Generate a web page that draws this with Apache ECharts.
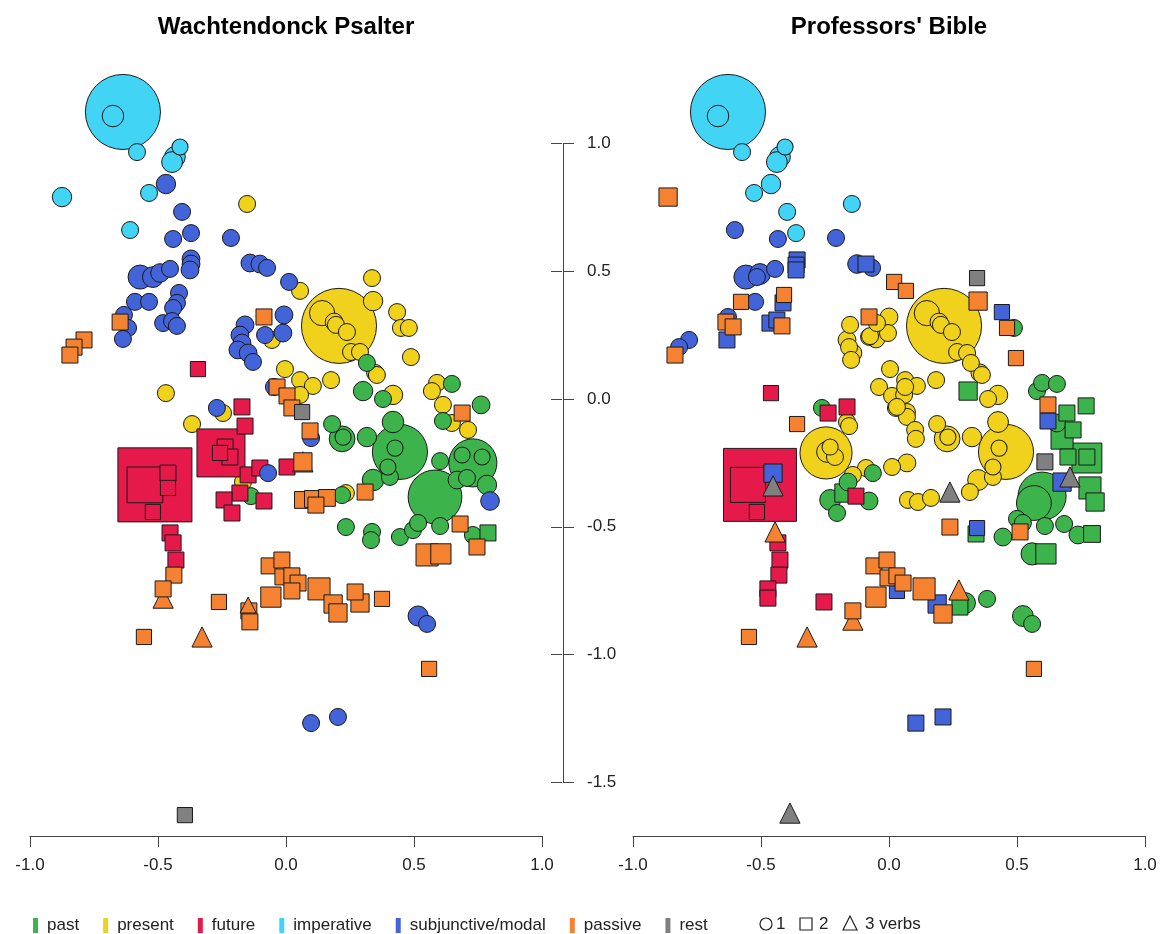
<!DOCTYPE html>
<html>
<head>
<meta charset="utf-8">
<title>Wachtendonck Psalter / Professors' Bible</title>
<script src="https://cdn.jsdelivr.net/npm/echarts@6/dist/echarts.min.js"></script>
<style>
  html, body { margin: 0; padding: 0; background: #fff; }
  #chart { width: 1161px; height: 934px; }
</style>
</head>
<body>
<div id="chart"></div>
<script>
// each point: [x, y, frequency weight, number of verbs (1 circle, 2 square, 3 triangle)]
var categories = ['past', 'present', 'future', 'imperative', 'subjunctive/modal', 'passive', 'rest'];
var colors = ['#3cb44b', '#f0d21c', '#e6194b', '#42d4f4', '#4363d8', '#f58231', '#808080'];
var drawOrder = ['present', 'past', 'imperative', 'future', 'subjunctive/modal', 'passive', 'rest'];
var panelTitles = ['Wachtendonck Psalter', "Professors' Bible"];

// ---- Wachtendonck Psalter ----
var psalterPast = [
    [0.316, 0.141, 1, 1], [0.301, 0.031, 1.3, 1], [0.379, 0.000, 1, 1], [0.648, 0.059, 1, 1],
    [0.762, -0.023, 1.1, 1], [0.613, -0.086, 1, 1], [0.180, -0.098, 1, 1], [0.219, -0.156, 2.3, 1],
    [0.223, -0.149, 0.9, 1], [0.316, -0.149, 1.3, 1], [0.418, -0.090, 1.6, 1], [0.445, -0.207, 10.5, 1],
    [0.426, -0.192, 0.9, 1], [0.398, -0.266, 0.9, 1], [0.406, -0.305, 1, 1], [0.340, -0.317, 1.6, 1],
    [0.602, -0.243, 1, 1], [0.730, -0.250, 8, 1], [0.688, -0.219, 0.9, 1], [0.766, -0.227, 0.9, 1],
    [0.668, -0.317, 1.1, 1], [0.707, -0.309, 1, 1], [0.785, -0.336, 1.3, 1], [0.582, -0.383, 10, 1],
    [0.730, -0.532, 1, 1], [0.234, -0.501, 1, 1], [0.336, -0.520, 1, 1], [0.332, -0.552, 1, 1],
    [0.445, -0.540, 1, 1], [0.496, -0.513, 1, 1], [0.516, -0.485, 1, 1], [0.602, -0.497, 1, 1],
    [0.219, -0.376, 1, 1], [-0.137, -0.380, 1, 1], [0.789, -0.524, 1, 2]
];
var psalterPresent = [
    [-0.152, 0.763, 1, 1], [0.336, 0.473, 1, 1], [0.340, 0.383, 1.3, 1], [0.055, 0.423, 1, 1],
    [0.207, 0.286, 19.5, 1], [0.141, 0.336, 2.2, 1], [0.188, 0.301, 1.1, 1], [0.195, 0.290, 1, 1],
    [0.238, 0.262, 1, 1], [0.254, 0.184, 1, 1], [0.289, 0.184, 1, 1], [0.348, 0.102, 1, 1],
    [0.355, 0.094, 1, 1], [0.434, 0.340, 1, 1], [0.449, 0.278, 1, 1], [0.480, 0.278, 1, 1],
    [0.488, 0.164, 1, 1], [-0.004, 0.117, 1, 1], [0.055, 0.074, 1, 1], [0.105, 0.051, 1, 1],
    [0.176, 0.074, 1, 1], [0.055, 0.016, 1, 1], [0.418, 0.016, 1.3, 1], [0.590, 0.063, 1, 1],
    [0.570, 0.031, 1, 1], [0.613, -0.023, 1, 1], [0.648, -0.094, 1, 1], [0.711, -0.121, 1, 1],
    [0.234, -0.368, 1, 1], [-0.055, 0.231, 1, 1], [-0.469, 0.023, 1, 1], [-0.246, -0.055, 1, 1],
    [-0.367, -0.098, 1, 1], [-0.168, -0.325, 1, 1]
];
var psalterFuture = [
    [-0.512, -0.336, 21.4, 2], [-0.551, -0.336, 5, 2], [-0.461, -0.290, 1, 2], [-0.461, -0.348, 0.9, 2],
    [-0.520, -0.442, 0.9, 2], [-0.254, -0.211, 9, 2], [-0.238, -0.188, 1, 2], [-0.219, -0.227, 1, 2],
    [-0.258, -0.211, 0.9, 2], [-0.344, 0.117, 0.9, 2], [-0.172, -0.031, 1, 2], [-0.160, -0.106, 1, 2],
    [-0.148, -0.297, 1, 2], [-0.102, -0.270, 1, 2], [0.004, -0.266, 1, 2], [-0.180, -0.368, 1, 2],
    [-0.242, -0.395, 1, 2], [-0.086, -0.399, 1, 2], [-0.211, -0.446, 1, 2], [-0.453, -0.524, 1, 2],
    [-0.441, -0.563, 1, 2], [-0.430, -0.630, 1, 2]
];
var psalterImperative = [
    [-0.637, 1.123, 19.5, 1], [-0.676, 1.107, 1.6, 1], [-0.582, 0.966, 1, 1], [-0.414, 0.986, 0.9, 1],
    [-0.434, 0.947, 1.5, 1], [-0.445, 0.927, 1.5, 1], [-0.535, 0.806, 1, 1], [-0.875, 0.790, 1.3, 1],
    [-0.609, 0.661, 1, 1]
];
var psalterModal = [
    [-0.469, 0.841, 1.3, 1], [-0.406, 0.732, 1, 1], [-0.371, 0.649, 1, 1], [-0.441, 0.626, 1, 1],
    [-0.215, 0.630, 1, 1], [-0.371, 0.548, 1.1, 1], [-0.371, 0.528, 1.1, 1], [-0.375, 0.505, 1.1, 1],
    [-0.570, 0.477, 2.0, 1], [-0.520, 0.477, 1.5, 1], [-0.492, 0.493, 1.2, 1], [-0.453, 0.509, 1, 1],
    [-0.141, 0.532, 1.1, 1], [-0.102, 0.528, 1.1, 1], [-0.074, 0.513, 1, 1], [0.012, 0.458, 1, 1],
    [-0.590, 0.380, 1, 1], [-0.535, 0.380, 1, 1], [-0.418, 0.415, 1, 1], [-0.426, 0.376, 1, 1],
    [-0.441, 0.356, 1, 1], [-0.480, 0.297, 1, 1], [-0.445, 0.305, 1, 1], [-0.426, 0.286, 1, 1],
    [-0.633, 0.329, 1, 1], [-0.617, 0.278, 1, 1], [-0.637, 0.235, 1, 1], [-0.160, 0.290, 1.1, 1],
    [-0.180, 0.250, 1.1, 1], [-0.172, 0.219, 1.1, 1], [-0.188, 0.192, 1.1, 1], [-0.148, 0.180, 1.1, 1],
    [-0.129, 0.145, 1, 1], [-0.008, 0.329, 1.1, 1], [-0.012, 0.258, 1.1, 1], [-0.082, 0.250, 1, 1],
    [-0.047, 0.047, 1, 1], [-0.270, -0.035, 1, 1], [0.098, -0.153, 1, 1], [-0.070, -0.290, 1, 1],
    [0.797, -0.399, 1.2, 1], [0.516, -0.849, 1.4, 1], [0.551, -0.880, 1, 1], [0.098, -1.268, 1, 1],
    [0.203, -1.244, 1, 1]
];
var psalterPassive = [
    [-0.648, 0.301, 1, 2], [-0.789, 0.231, 1, 2], [-0.828, 0.203, 1, 2], [-0.844, 0.172, 1, 2],
    [-0.086, 0.321, 1, 2], [-0.035, 0.047, 1, 2], [0.004, 0.012, 1, 2], [0.023, -0.035, 1, 2],
    [0.094, -0.125, 1, 2], [0.066, -0.395, 1.1, 2], [0.105, -0.391, 1.1, 2], [0.160, -0.387, 1.1, 2],
    [0.117, -0.415, 1, 2], [0.309, -0.364, 1, 2], [0.688, -0.055, 1, 2], [0.680, -0.489, 1, 2],
    [0.746, -0.579, 1, 2], [0.551, -0.610, 1.9, 2], [0.605, -0.606, 1.6, 2], [-0.438, -0.689, 1, 2],
    [-0.480, -0.743, 1, 2], [-0.262, -0.794, 0.9, 2], [-0.145, -0.829, 1, 2], [-0.141, -0.872, 1, 2],
    [-0.555, -0.931, 0.9, 2], [-0.066, -0.653, 1, 2], [-0.016, -0.630, 1, 2], [-0.012, -0.696, 1, 2],
    [0.023, -0.692, 1, 2], [0.047, -0.720, 1, 2], [0.023, -0.751, 1, 2], [-0.059, -0.775, 1.6, 2],
    [0.129, -0.743, 1.9, 2], [0.184, -0.802, 1.3, 2], [0.203, -0.837, 1.3, 2], [0.270, -0.755, 1, 2],
    [0.289, -0.798, 1.3, 2], [0.375, -0.782, 0.9, 2], [0.559, -1.056, 0.9, 2], [0.066, -0.246, 1.3, 2],
    [0.066, -0.246, 1.6, 3], [-0.480, -0.779, 1.6, 3], [-0.328, -0.931, 1.6, 3], [-0.148, -0.806, 1, 3]
];
var psalterRest = [
    [0.063, -0.051, 0.9, 2], [-0.395, -1.628, 0.9, 2]
];

// ---- Professors' Bible ----
var biblePast = [
    [0.488, 0.278, 1, 1], [0.578, 0.031, 1, 1], [0.598, 0.063, 1, 1], [0.656, 0.059, 1, 1],
    [0.656, -0.094, 1.1, 1], [-0.262, -0.035, 1, 1], [-0.063, -0.290, 1, 1], [-0.160, -0.325, 1.1, 1],
    [-0.230, -0.395, 1.5, 1], [-0.078, -0.399, 1.1, 1], [-0.203, -0.446, 1, 1], [0.598, -0.380, 8, 1],
    [0.566, -0.407, 4.2, 1], [0.609, -0.497, 1, 1], [0.684, -0.489, 1, 1], [0.738, -0.532, 1.1, 1],
    [0.445, -0.540, 1.1, 1], [0.500, -0.469, 1, 1], [0.523, -0.485, 1, 1], [0.559, -0.606, 1.7, 1],
    [0.297, -0.798, 1.5, 1], [0.383, -0.782, 1, 1], [0.523, -0.849, 1.5, 1], [0.559, -0.880, 1, 1],
    [0.309, 0.031, 1.3, 2], [0.770, -0.027, 1, 2], [0.695, -0.055, 1, 2], [0.719, -0.121, 1, 2],
    [0.676, -0.153, 1.9, 2], [0.699, -0.227, 1, 2], [0.773, -0.231, 3.5, 2], [0.773, -0.227, 1, 2],
    [0.785, -0.348, 1.9, 2], [0.805, -0.403, 1.3, 2], [0.793, -0.528, 1.1, 2], [0.613, -0.606, 1.6, 2],
    [0.340, -0.528, 1, 2], [0.277, -0.814, 1, 2], [-0.176, -0.368, 1.3, 2]
];
var biblePresent = [
    [0.215, 0.286, 19.5, 1], [0.148, 0.336, 2.2, 1], [0.195, 0.301, 1.1, 1], [0.203, 0.290, 1, 1],
    [0.246, 0.262, 1, 1], [0.266, 0.184, 1, 1], [0.305, 0.180, 1, 1], [0.320, 0.141, 1, 1],
    [0.355, 0.102, 1.1, 1], [0.363, 0.094, 1, 1], [0.000, 0.321, 1.1, 1], [-0.004, 0.258, 1, 1],
    [-0.051, 0.235, 1.1, 1], [-0.078, 0.243, 1, 1], [-0.152, 0.290, 1, 1], [-0.164, 0.231, 1.1, 1],
    [-0.141, 0.180, 1.1, 1], [-0.156, 0.203, 1, 1], [-0.074, 0.246, 1, 1], [-0.047, 0.297, 1, 1],
    [-0.148, 0.153, 1, 1], [0.004, 0.117, 1, 1], [0.063, 0.074, 1, 1], [0.109, 0.051, 1, 1],
    [0.184, 0.074, 1, 1], [-0.039, 0.047, 1, 1], [0.012, 0.012, 1, 1], [0.027, -0.035, 1, 1],
    [0.070, -0.051, 1, 1], [0.070, -0.070, 1, 1], [0.059, 0.016, 1, 1], [0.102, -0.121, 1, 1],
    [0.105, -0.156, 1, 1], [0.387, 0.000, 1, 1], [0.426, 0.016, 1.3, 1], [0.188, -0.098, 1, 1],
    [0.227, -0.156, 2.3, 1], [0.230, -0.149, 0.9, 1], [0.324, -0.149, 1.3, 1], [0.426, -0.090, 1.5, 1],
    [0.457, -0.207, 10.5, 1], [0.430, -0.192, 0.9, 1], [0.406, -0.266, 0.9, 1], [0.406, -0.305, 1, 1],
    [0.348, -0.317, 1.5, 1], [0.316, -0.364, 1, 1], [0.074, -0.395, 1, 1], [0.113, -0.403, 1, 1],
    [0.164, -0.387, 1, 1], [0.070, -0.250, 1.1, 1], [0.012, -0.266, 1, 1], [-0.090, -0.270, 1, 1],
    [-0.246, -0.211, 9.4, 1], [-0.242, -0.207, 1.5, 1], [-0.211, -0.227, 1, 1], [-0.230, -0.188, 0.9, 1],
    [-0.141, -0.297, 1, 1], [-0.164, -0.090, 1, 1], [-0.156, -0.106, 1, 1], [0.031, -0.031, 1, 1],
    [0.063, 0.047, 1, 1]
];
var bibleFuture = [
    [-0.504, -0.336, 20.8, 2], [-0.551, -0.336, 4.8, 2], [-0.516, -0.442, 0.9, 2], [-0.461, 0.023, 0.9, 2],
    [-0.238, -0.055, 1, 2], [-0.164, -0.031, 1, 2], [-0.129, -0.380, 1, 2], [-0.434, -0.563, 1, 2],
    [-0.426, -0.630, 1, 2], [-0.430, -0.689, 1, 2], [-0.473, -0.743, 1, 2], [-0.473, -0.779, 1, 2],
    [-0.254, -0.794, 1, 2]
];
var bibleImperative = [
    [-0.629, 1.123, 19.5, 1], [-0.668, 1.107, 1.6, 1], [-0.574, 0.966, 1, 1], [-0.406, 0.986, 0.9, 1],
    [-0.426, 0.947, 1.5, 1], [-0.438, 0.927, 1.5, 1], [-0.461, 0.841, 1.3, 1], [-0.527, 0.806, 1, 1],
    [-0.398, 0.732, 1, 1], [-0.363, 0.649, 1, 1], [-0.145, 0.763, 1, 1]
];
var bibleModal = [
    [-0.602, 0.661, 1, 1], [-0.434, 0.626, 1, 1], [-0.207, 0.630, 1, 1], [-0.559, 0.477, 2.0, 1],
    [-0.504, 0.489, 1.5, 1], [-0.516, 0.477, 1, 1], [-0.445, 0.509, 1, 1], [-0.125, 0.528, 1.2, 1],
    [-0.066, 0.513, 1, 1], [-0.523, 0.380, 1, 1], [-0.629, 0.321, 1, 1], [-0.781, 0.231, 1, 1],
    [-0.820, 0.203, 1, 1], [-0.359, 0.544, 1, 2], [-0.363, 0.524, 1, 2], [-0.363, 0.505, 1, 2],
    [-0.090, 0.528, 1, 2], [-0.414, 0.376, 1, 2], [-0.465, 0.297, 1, 2], [-0.438, 0.309, 1, 2],
    [-0.633, 0.231, 1, 2], [0.441, 0.340, 0.9, 2], [0.621, -0.086, 1, 2], [0.676, -0.325, 1.3, 2],
    [-0.453, -0.290, 1.3, 2], [0.031, -0.751, 0.9, 2], [0.188, -0.802, 1.3, 2], [0.344, -0.505, 0.9, 2],
    [0.105, -1.268, 1, 2], [0.211, -1.244, 1, 2]
];
var biblePassive = [
    [-0.863, 0.790, 1.3, 2], [0.020, 0.458, 0.9, 2], [0.066, 0.423, 0.9, 2], [-0.578, 0.380, 0.9, 2],
    [-0.410, 0.407, 0.9, 2], [-0.418, 0.286, 1, 2], [-0.637, 0.301, 1, 2], [-0.609, 0.282, 1, 2],
    [-0.836, 0.172, 1, 2], [-0.078, 0.321, 1, 2], [0.348, 0.383, 1.3, 2], [0.461, 0.278, 0.9, 2],
    [0.496, 0.160, 0.9, 2], [-0.359, -0.098, 0.9, 2], [0.621, -0.023, 1, 2], [0.238, -0.501, 1, 2],
    [0.512, -0.520, 1, 2], [-0.059, -0.653, 1, 2], [-0.008, -0.630, 1, 2], [-0.004, -0.700, 1, 2],
    [0.031, -0.692, 1, 2], [0.055, -0.720, 1, 2], [-0.051, -0.775, 1.6, 2], [0.137, -0.743, 1.9, 2],
    [0.211, -0.841, 1.3, 2], [-0.141, -0.829, 1, 2], [-0.547, -0.931, 0.9, 2], [0.566, -1.056, 0.9, 2],
    [-0.445, -0.520, 1.6, 3], [-0.141, -0.865, 1.6, 3], [-0.320, -0.931, 1.6, 3], [0.273, -0.747, 1.6, 3]
];
var bibleRest = [
    [0.344, 0.473, 0.9, 2], [0.609, -0.246, 1, 2], [0.707, -0.305, 1.6, 3], [0.238, -0.364, 1.6, 3],
    [-0.453, -0.340, 1.6, 3], [-0.387, -1.620, 1.6, 3]
];

var psalterSets = [psalterPast, psalterPresent, psalterFuture, psalterImperative, psalterModal, psalterPassive, psalterRest];
var bibleSets = [biblePast, biblePresent, bibleFuture, bibleImperative, bibleModal, biblePassive, bibleRest];

var FONT = '"Liberation Sans", Arial, Helvetica, sans-serif';
var shapeOf = {1: 'circle', 2: 'rect', 3: 'triangle'};
var baseSize = {1: 17, 2: 16, 3: 16};

var chart = echarts.init(document.getElementById('chart'));

function buildSeries(sets, idx) {
    return drawOrder.map(function (name) {
        var i = categories.indexOf(name);
        // larger marks first so smaller ones stay visible on top
        var pts = sets[i].slice().sort(function (a, b) { return b[2] - a[2]; });
        return {
            name: name,
            type: 'scatter',
            xAxisIndex: idx,
            yAxisIndex: idx,
            data: pts,
            clip: false,
            symbol: function (v) { return shapeOf[v[3]]; },
            symbolSize: function (v) { return baseSize[v[3]] * Math.sqrt(v[2]); },
            itemStyle: {color: colors[i], borderColor: '#1a1a1a', borderWidth: 1, opacity: 1},
            emphasis: {disabled: true}
        };
    });
}

function dataXAxis(idx) {
    return {
        gridIndex: idx, type: 'value', min: -1, max: 1, interval: 0.5,
        axisLine: {show: true, onZero: false, lineStyle: {color: '#444', width: 1}},
        axisTick: {show: true, length: 11, lineStyle: {color: '#444'}},
        axisLabel: {
            margin: 21, fontSize: 17, color: '#222', fontFamily: FONT,
            showMinLabel: true, showMaxLabel: true,
            formatter: function (v) { return v.toFixed(1); }
        },
        splitLine: {show: false}
    };
}

function dataYAxis(idx) {
    return {gridIndex: idx, type: 'value', min: -1.7097, max: 1.3654, show: false};
}

var option = {
    animation: false,
    backgroundColor: '#fff',
    grid: [
        {left: 30, width: 512, top: 50, height: 786},
        {left: 633, width: 512, top: 50, height: 786},
        {left: 562, width: 1, top: 143.4, height: 639}
    ],
    xAxis: [
        dataXAxis(0),
        dataXAxis(1),
        {gridIndex: 2, type: 'value', show: false}
    ],
    yAxis: [
        dataYAxis(0),
        dataYAxis(1),
        {
            gridIndex: 2, type: 'value', position: 'right', min: -1.5, max: 1, interval: 0.5,
            axisLine: {show: true, onZero: false, lineStyle: {color: '#444'}},
            axisTick: {show: true, length: 11, lineStyle: {color: '#444'}},
            axisLabel: {
                margin: 24, fontSize: 17, color: '#222', fontFamily: FONT,
                formatter: function (v) { return v.toFixed(1); }
            },
            splitLine: {show: false}
        },
        {
            gridIndex: 2, type: 'value', position: 'left', min: -1.5, max: 1, interval: 0.5,
            axisLine: {show: false, onZero: false},
            axisTick: {show: true, length: 11, lineStyle: {color: '#444'}},
            axisLabel: {show: false},
            splitLine: {show: false}
        }
    ],
    legend: {
        data: categories,
        left: 33,
        top: 917,
        padding: 0,
        itemGap: 24,
        itemWidth: 5,
        itemHeight: 15,
        icon: 'rect',
        selectedMode: false,
        itemStyle: {borderWidth: 0},
        textStyle: {fontSize: 17, color: '#222', fontFamily: FONT, padding: [0, 0, 0, 4]}
    },
    graphic: [
        {type: 'text', x: 286, y: 27, style: {text: panelTitles[0], font: 'bold 24px ' + FONT, fill: '#000',
            align: 'center', verticalAlign: 'middle', textAlign: 'center', textVerticalAlign: 'middle'}},
        {type: 'text', x: 889, y: 27, style: {text: panelTitles[1], font: 'bold 24px ' + FONT, fill: '#000',
            align: 'center', verticalAlign: 'middle', textAlign: 'center', textVerticalAlign: 'middle'}},
        {type: 'circle', shape: {cx: 766, cy: 924, r: 6}, style: {fill: 'none', stroke: '#222', lineWidth: 1.2}},
        {type: 'text', x: 776, y: 924, style: {text: '1', font: '17px ' + FONT, fill: '#222',
            verticalAlign: 'middle', textVerticalAlign: 'middle'}},
        {type: 'rect', shape: {x: 800, y: 918, width: 12, height: 12}, style: {fill: 'none', stroke: '#222', lineWidth: 1.2}},
        {type: 'text', x: 819, y: 924, style: {text: '2', font: '17px ' + FONT, fill: '#222',
            verticalAlign: 'middle', textVerticalAlign: 'middle'}},
        {type: 'polygon', shape: {points: [[850, 916], [843, 930], [857, 930]]}, style: {fill: 'none', stroke: '#222', lineWidth: 1.2}},
        {type: 'text', x: 865, y: 924, style: {text: '3 verbs', font: '17px ' + FONT, fill: '#222',
            verticalAlign: 'middle', textVerticalAlign: 'middle'}}
    ],
    series: buildSeries(psalterSets, 0).concat(buildSeries(bibleSets, 1))
};

chart.setOption(option);
window.onresize = chart.resize;
</script>
</body>
</html>
